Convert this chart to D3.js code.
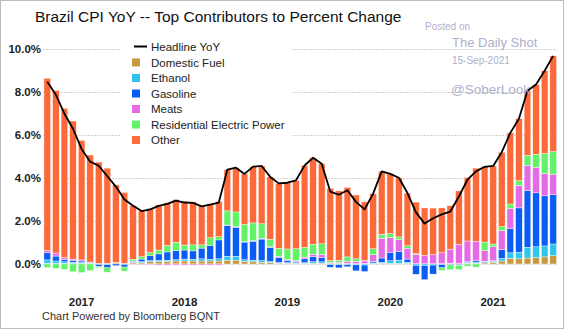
<!DOCTYPE html>
<html>
<head>
<meta charset="utf-8">
<script src="https://cdn.jsdelivr.net/npm/d3@7"></script>
<style>
  body { margin: 0; background: #fff; }
  svg { display: block; font-family: "Liberation Sans", Arial, sans-serif; }
</style>
</head>
<body>
<div id="main"></div>
<script>
// months Sep 2016 .. Aug 2021
var months = [
  '2016-09', '2016-10', '2016-11', '2016-12',
  '2017-01', '2017-02', '2017-03', '2017-04', '2017-05', '2017-06', '2017-07', '2017-08', '2017-09', '2017-10', '2017-11', '2017-12',
  '2018-01', '2018-02', '2018-03', '2018-04', '2018-05', '2018-06', '2018-07', '2018-08', '2018-09', '2018-10', '2018-11', '2018-12',
  '2019-01', '2019-02', '2019-03', '2019-04', '2019-05', '2019-06', '2019-07', '2019-08', '2019-09', '2019-10', '2019-11', '2019-12',
  '2020-01', '2020-02', '2020-03', '2020-04', '2020-05', '2020-06', '2020-07', '2020-08', '2020-09', '2020-10', '2020-11', '2020-12',
  '2021-01', '2021-02', '2021-03', '2021-04', '2021-05', '2021-06', '2021-07', '2021-08'
];

var headline = [8.48, 7.87, 6.99, 6.29,
  5.35, 4.76, 4.57, 4.08, 3.60, 3.00, 2.71, 2.46, 2.54, 2.70, 2.80, 2.95,
  2.86, 2.84, 2.68, 2.76, 2.86, 4.39, 4.48, 4.19, 4.53, 4.56, 4.05, 3.75,
  3.78, 3.89, 4.58, 4.94, 4.66, 3.37, 3.22, 3.43, 2.89, 2.54, 3.27, 4.31,
  4.19, 4.01, 3.30, 2.40, 1.88, 2.13, 2.31, 2.44, 3.14, 3.92, 4.31, 4.52,
  4.56, 5.20, 6.10, 6.76, 8.06, 8.35, 8.99, 9.68];

var domesticFuel = [0.03, 0.02, 0.02, 0.02,
  0.02, 0.02, 0.02, 0.03, 0.05, 0.04, 0.05, 0.06, 0.10, 0.10, 0.12, 0.14,
  0.14, 0.14, 0.14, 0.14, 0.14, 0.18, 0.18, 0.12, 0.10, 0.08, 0.06, 0.04,
  0.04, 0.03, 0.03, 0.04, 0.04, 0.03, 0.03, 0.03, 0.02, 0.02, 0.02, 0.03,
  0.03, 0.03, 0.03, 0.02, 0.01, 0.01, 0.02, 0.02, 0.02, 0.03, 0.04, 0.05,
  0.08, 0.14, 0.26, 0.24, 0.28, 0.30, 0.33, 0.39];

var ethanol = [0.16, 0.12, 0.08, 0.06,
  0.05, 0.03, -0.02, -0.03, 0.02, -0.02, 0.03, 0.05, 0.06, 0.07, 0.06, 0.06,
  0.09, 0.08, 0.10, 0.08, 0.10, 0.18, 0.18, 0.08, 0.08, 0.08, 0.06, 0.03,
  0.03, 0.03, 0.03, 0.07, 0.06, -0.03, -0.03, -0.03, -0.04, -0.05, 0.03, 0.05,
  0.12, 0.15, 0.05, -0.06, -0.07, -0.05, -0.03, 0.02, -0.03, 0.05, 0.05, 0.05,
  0.05, 0.12, 0.26, 0.31, 0.50, 0.50, 0.51, 0.54];

var gasoline = [0.33, 0.23, 0.11, 0.09,
  0.07, 0.02, -0.09, -0.15, -0.08, -0.12, 0.05, 0.12, 0.22, 0.30, 0.38, 0.42,
  0.42, 0.39, 0.50, 0.65, 0.88, 1.42, 1.35, 0.82, 0.88, 1.00, 0.64, 0.22,
  0.10, 0.05, 0.18, 0.24, 0.20, -0.12, -0.15, -0.10, -0.28, -0.30, 0.08, 0.20,
  0.37, 0.39, 0.15, -0.42, -0.66, -0.42, -0.15, -0.04, -0.03, 0.03, 0.06, 0.03,
  0.03, 0.42, 1.12, 2.06, 2.64, 2.51, 2.33, 2.29];

var meats = [0.11, 0.14, 0.09, 0.06,
  0.05, 0.02, 0.01, 0.01, 0.01, 0.00, 0.01, -0.02, -0.04, -0.05, -0.05, -0.05,
  -0.05, -0.05, -0.05, -0.05, -0.05, 0.03, 0.03, 0.02, 0.03, 0.03, 0.04, 0.06,
  0.03, 0.05, 0.08, 0.10, 0.14, 0.05, 0.04, 0.10, 0.10, 0.12, 0.30, 0.92,
  0.71, 0.57, 0.50, 0.43, 0.40, 0.43, 0.50, 0.65, 0.90, 0.96, 0.90, 0.50,
  0.65, 0.87, 0.95, 1.04, 1.16, 1.18, 1.04, 0.96];

var electricPower = [-0.16, -0.20, -0.25, -0.36,
  -0.40, -0.31, -0.06, -0.20, 0.00, -0.19, 0.08, 0.11, 0.15, 0.18, 0.30, 0.39,
  0.23, 0.28, 0.15, 0.35, 0.15, 0.66, 0.68, 0.80, 0.82, 0.68, 0.35, 0.38,
  0.50, 0.55, 0.45, 0.47, 0.50, 0.08, 0.10, 0.20, 0.12, 0.03, 0.28, 0.18,
  0.18, 0.12, 0.12, 0.03, 0.00, 0.00, -0.12, -0.23, -0.20, -0.10, -0.15, 0.39,
  0.12, 0.19, 0.20, 0.23, 0.47, 0.62, 0.93, 1.05];

var other = [8.01, 7.56, 6.94, 6.42,
  5.56, 4.98, 4.71, 4.42, 3.60, 3.29, 2.49, 2.14, 2.05, 2.10, 1.99, 1.99,
  2.03, 2.00, 1.84, 1.59, 1.64, 1.92, 2.06, 2.35, 2.62, 2.69, 2.90, 3.02,
  3.08, 3.18, 3.81, 4.02, 3.72, 3.36, 3.23, 3.23, 2.97, 2.72, 2.56, 2.93,
  2.78, 2.75, 2.45, 2.40, 2.20, 2.16, 2.09, 2.02, 2.48, 2.95, 3.41, 3.50,
  3.63, 3.46, 3.31, 2.88, 3.01, 3.24, 3.85, 4.45];

var seriesNames = ['Domestic Fuel', 'Ethanol', 'Gasoline', 'Meats', 'Residential Electric Power', 'Other'];
var seriesColors = ['#c9983d', '#2cc6ec', '#0a5cf4', '#e56be6', '#62f267', '#fd6a3a'];
var yTicks = [0, 2, 4, 6, 8, 10];

var width = 564, height = 329;

var svg = d3.select('#main').append('svg').attr('width', width).attr('height', height);

svg.append('rect').attr('x', 0.5).attr('y', 0.5).attr('width', width - 1).attr('height', height - 1)
  .attr('fill', '#fff').attr('stroke', '#bdbdbd');

var x = d3.scaleBand().domain(months).range([43, 557.5]).paddingInner(0.22).paddingOuter(0.11);
var y = d3.scaleLinear().domain([0, 10]).range([264, 49]);

// table for the stack
var rows = months.map(function (m, i) {
  return {
    month: m,
    'Domestic Fuel': domesticFuel[i],
    'Ethanol': ethanol[i],
    'Gasoline': gasoline[i],
    'Meats': meats[i],
    'Residential Electric Power': electricPower[i],
    'Other': other[i]
  };
});

var stacked = d3.stack().keys(seriesNames).offset(d3.stackOffsetDiverging)(rows);

// gridlines
svg.append('g').selectAll('line')
  .data(yTicks)
  .enter()
  .append('line')
  .attr('x1', 43).attr('x2', 557)
  .attr('y1', function (d) { return y(d) + 0.5; })
  .attr('y2', function (d) { return y(d) + 0.5; })
  .attr('stroke', '#dcd0c4')
  .attr('stroke-dasharray', '2,1');

// y axis
var yAxis = svg.append('g')
  .attr('transform', 'translate(43,0)')
  .call(d3.axisLeft(y).tickValues(yTicks).tickSize(0).tickPadding(2)
    .tickFormat(function (d) { return d.toFixed(1) + '%'; }));
yAxis.select('.domain').remove();
yAxis.selectAll('text').attr('font-family', '"Liberation Sans", Arial, sans-serif')
  .attr('font-size', 11.5).attr('font-weight', 'bold').attr('fill', '#222');

// x axis: year labels under January bars
var xAxis = svg.append('g')
  .attr('transform', 'translate(0,295)')
  .call(d3.axisBottom(x)
    .tickValues(months.filter(function (m) { return m.slice(5) === '01'; }))
    .tickSize(0)
    .tickFormat(function (m) { return m.slice(0, 4); }));
xAxis.select('.domain').remove();
xAxis.selectAll('text').attr('font-family', '"Liberation Sans", Arial, sans-serif')
  .attr('font-size', 11.5).attr('font-weight', 'bold').attr('fill', '#222');

// bars
svg.append('g').selectAll('g')
  .data(stacked)
  .enter()
  .append('g')
  .attr('fill', function (d, i) { return seriesColors[i]; })
  .selectAll('rect')
  .data(function (d) { return d; })
  .enter()
  .append('rect')
  .attr('x', function (d) { return x(d.data.month); })
  .attr('width', x.bandwidth())
  .attr('y', function (d) { return y(Math.max(d[0], d[1])); })
  .attr('height', function (d) { return Math.abs(y(d[0]) - y(d[1])); })
  .attr('stroke', '#fff')
  .attr('stroke-width', 0.4);

// headline line
var lineGenerator = d3.line()
  .x(function (d, i) { return x(months[i]) + x.bandwidth() / 2; })
  .y(function (d) { return y(d); });

svg.append('path')
  .datum(headline)
  .attr('fill', 'none')
  .attr('stroke', '#000')
  .attr('stroke-width', 1.8)
  .attr('stroke-linejoin', 'round')
  .attr('d', lineGenerator);

// legend
var legend = svg.append('g');

legend.append('rect').attr('x', 121).attr('y', 37).attr('width', 170).attr('height', 112).attr('fill', '#fff');

legend.append('line').attr('x1', 134).attr('x2', 147).attr('y1', 46.5).attr('y2', 46.5)
  .attr('stroke', '#000').attr('stroke-width', 2);

legend.append('text').attr('x', 151).attr('y', 50.5).attr('font-size', 11.5).attr('fill', '#222')
  .text('Headline YoY');

seriesNames.forEach(function (name, i) {

  var cy = 62.5 + i * 15.5;

  legend.append('rect').attr('x', 132).attr('y', cy - 4).attr('width', 8).attr('height', 8)
    .attr('fill', seriesColors[i]);

  legend.append('text').attr('x', 151).attr('y', cy + 4).attr('font-size', 11.5).attr('fill', '#222')
    .text(name);
});

// title and footer
svg.append('text').attr('x', 35).attr('y', 22).attr('font-size', 15.5).attr('fill', '#111')
  .text('Brazil CPI YoY -- Top Contributors to Percent Change');

svg.append('text').attr('x', 42).attr('y', 320).attr('font-size', 11).attr('fill', '#333')
  .text('Chart Powered by Bloomberg BQNT');

// watermark
var wm = '#aeb0cc';
svg.append('text').attr('x', 425).attr('y', 30).attr('font-size', 10).attr('fill', wm).text('Posted on');
svg.append('text').attr('x', 452).attr('y', 47).attr('font-size', 13).attr('fill', wm).text('The Daily Shot');
svg.append('text').attr('x', 452).attr('y', 64).attr('font-size', 10).attr('fill', wm).text('15-Sep-2021');
svg.append('text').attr('x', 451).attr('y', 94).attr('font-size', 13.5).attr('fill', wm).text('@SoberLook');
</script>
</body>
</html>
